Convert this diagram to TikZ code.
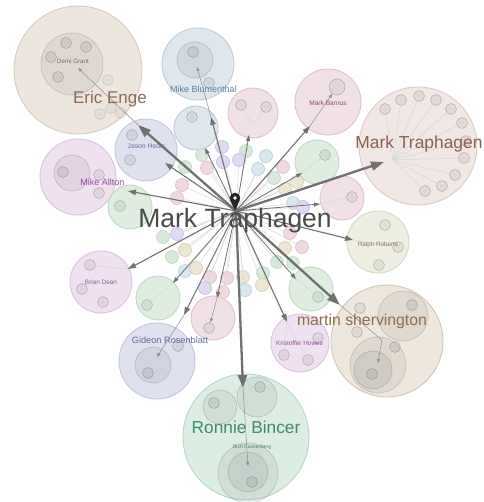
\documentclass[tikz,border=0pt]{standalone}
\usepackage{fontspec}
\setmainfont{Liberation Sans}
\usetikzlibrary{arrows.meta}
\definecolor{beigeF}{HTML}{EDE6DF}\definecolor{beigeD}{HTML}{D9CBBE}
\definecolor{blueF}{HTML}{DFE7EC}\definecolor{blueD}{HTML}{BCCCD8}
\definecolor{pinkF}{HTML}{F1E1E6}\definecolor{pinkD}{HTML}{DEC3CC}
\definecolor{lavF}{HTML}{E0E1EF}\definecolor{lavD}{HTML}{C2C5E0}
\definecolor{purpF}{HTML}{F0E1F1}\definecolor{purpD}{HTML}{DAC2DF}
\definecolor{greenF}{HTML}{DFEDE1}\definecolor{greenD}{HTML}{C0D9C6}
\definecolor{oliveF}{HTML}{EFEEE3}\definecolor{oliveD}{HTML}{D9D7C1}
\definecolor{roseF}{HTML}{F1E7E5}\definecolor{roseD}{HTML}{DDCBC5}
\definecolor{tanF}{HTML}{EDE7DE}\definecolor{tanD}{HTML}{D3C5B2}
\definecolor{ronF}{HTML}{DCEDE4}\definecolor{ronD}{HTML}{B7D7C6}
\definecolor{sgF}{HTML}{D8E8DA}\definecolor{sgD}{HTML}{BFD7C4}
\definecolor{spF}{HTML}{EFD9DF}\definecolor{spD}{HTML}{DCBCC6}
\definecolor{slF}{HTML}{DEDBF0}\definecolor{slD}{HTML}{C2BDE0}
\definecolor{sbF}{HTML}{D9E7EE}\definecolor{sbD}{HTML}{B9CFDB}
\definecolor{seF}{HTML}{ECE6D5}\definecolor{seD}{HTML}{D6CCB2}
\definecolor{arrC}{HTML}{707070}
\definecolor{ericC}{HTML}{8C6A55}\definecolor{markTC}{HTML}{8E5E4E}
\definecolor{martinC}{HTML}{8F6E48}\definecolor{ronC}{HTML}{3E8C66}
\definecolor{centerC}{HTML}{4A4A4A}\definecolor{blumC}{HTML}{5C7F9E}
\definecolor{barnC}{HTML}{8B4B5E}\definecolor{jasonC}{HTML}{6E6E9E}
\definecolor{alltonC}{HTML}{8E4E9E}\definecolor{ralphC}{HTML}{7D7B5A}
\definecolor{brianC}{HTML}{8E5E9E}\definecolor{gidC}{HTML}{5E6E9E}
\definecolor{kristC}{HTML}{8E4E8E}\definecolor{richC}{HTML}{4E7E5E}
\tikzset{
 bub/.style={circle, inner sep=0pt, outer sep=0pt, line width=0.9pt},
 cBeige/.style={fill=beigeF, draw=beigeD},
 cBlue/.style={fill=blueF, draw=blueD},
 cPink/.style={fill=pinkF, draw=pinkD},
 cLav/.style={fill=lavF, draw=lavD},
 cPurp/.style={fill=purpF, draw=purpD},
 cGreen/.style={fill=greenF, draw=greenD},
 cOlive/.style={fill=oliveF, draw=oliveD},
 cRose/.style={fill=roseF, draw=roseD},
 cTan/.style={fill=tanF, draw=tanD},
 cRon/.style={fill=ronF, draw=ronD},
 inr/.style={circle, inner sep=0pt, fill=black, fill opacity=0.06, draw=black, draw opacity=0.14, line width=0.7pt},
 sub/.style={circle, inner sep=0pt, minimum size=11pt, fill=black, fill opacity=0.06, draw=black, draw opacity=0.2, line width=0.6pt,
   path picture={\draw[black!25, line width=0.4pt] (path picture bounding box.center) circle (1.5pt);}},
 pale/.style={fill opacity=0.035, draw opacity=0.12},
 sm/.style={circle, inner sep=0pt, minimum size=13pt, line width=0.6pt},
 sG/.style={fill=sgF, draw=sgD}, sP/.style={fill=spF, draw=spD},
 sL/.style={fill=slF, draw=slD}, sB/.style={fill=sbF, draw=sbD},
 sE/.style={fill=seF, draw=seD},
 faint/.style={draw=black!17, line width=0.4pt},
 thk/.style={draw=arrC, line width=2.3pt, -{Triangle[length=13pt,width=9pt]}},
 med/.style={draw=arrC, line width=1.1pt, -{Triangle[length=8pt,width=5.5pt]}},
 lite/.style={draw=arrC, line width=0.8pt, -{Triangle[length=6pt,width=4pt]}},
 thinarr/.style={draw=arrC!80, line width=0.5pt, -{Triangle[length=4pt,width=3pt]}},
 lbl/.style={inner sep=0pt, anchor=base},
}
\begin{document}
\begin{tikzpicture}[x=1pt,y=-1pt]
\useasboundingbox[fill=white] (0,0) rectangle (483,502);
% ---------- big circles ----------
\node[bub,cBeige,minimum size=128pt] (eric) at (78,70) {};
\node[inr,minimum size=62pt] (ericIn) at (72,64) {};
\node[bub,cBlue,minimum size=72pt] (blum) at (198,64) {};
\node[inr,minimum size=36pt] (blumIn) at (195,60) {};
\node[bub,cBlue,minimum size=44pt] (bl2) at (196,128) {};
\node[bub,cPink,minimum size=50pt] (pk1) at (253,113) {};
\node[bub,cPink,minimum size=66pt] (barn) at (328,102) {};
\node[bub,cRose,minimum size=118pt] (markT) at (418,146) {};
\node[bub,cGreen,minimum size=44pt] (gr1) at (317,162) {};
\node[bub,cPink,minimum size=44pt] (pk2) at (342,198) {};
\node[bub,cLav,minimum size=62pt] (jason) at (146,150) {};
\node[bub,cPurp,minimum size=76pt] (allton) at (78,177) {};
\node[inr,minimum size=36pt] (alltonIn) at (72,173) {};
\node[bub,cGreen,minimum size=44pt] (gr2) at (130,207) {};
\node[bub,cOlive,minimum size=62pt] (ralph) at (378,242) {};
\node[bub,cPurp,minimum size=62pt] (brian) at (101,282) {};
\node[bub,cGreen,minimum size=44pt] (gr3) at (158,298) {};
\node[bub,cLav,minimum size=76pt] (gid) at (157,361) {};
\node[inr,minimum size=36pt] (gidIn) at (153,365) {};
\node[bub,cPink,minimum size=44pt] (pk3) at (213,318) {};
\node[bub,cGreen,minimum size=44pt] (gr4) at (311,289) {};
\node[bub,cPurp,minimum size=58pt] (krist) at (300,343) {};
\node[bub,cTan,minimum size=112pt] (martin) at (387,341) {};
\node[inr,minimum size=50pt] (mIn1) at (403,316) {};
\node[inr,minimum size=56pt] (mIn2) at (378,365) {};
\node[inr,minimum size=38pt] (mIn3) at (373,370) {};
\node[bub,cRon,minimum size=126pt] (ronnie) at (246,437) {};
\node[inr,minimum size=40pt] (rIn1) at (257,397) {};
\node[inr,minimum size=34pt] (rIn2) at (220,407) {};
\node[inr,minimum size=60pt] (rIn3) at (248,473) {};
\node[inr,minimum size=40pt] (rIn4) at (248,472) {};
% ---------- sub circles inside groups ----------
\node[sub] (e1) at (66,43) {}; \node[sub] (e2) at (86,47) {};
\node[sub] (e3) at (51,57) {}; \node[sub] (e4) at (58,77) {};
\node[sub,pale] (e5) at (108,80) {}; \node[sub,pale] (e6) at (100,114) {};
\node[sub,pale] (e7) at (111,108) {}; \node[sub,pale] (e8) at (121,113) {};
\coordinate (eH) at (72,63);
\foreach \n in {e1,e2,e3,e4} \draw[faint] (eH) -- (\n);
\node[sub] (b1) at (193,52) {}; \node[sub] (b2) at (209,83) {};
\node[sub] (b3) at (192,117) {};
\node[sub] (p1) at (241,105) {}; \node[sub] (p2) at (266,107) {};
\coordinate (pH) at (253,125);
\draw[faint] (pH) -- (p1); \draw[faint] (pH) -- (p2);
\node[sub,minimum size=16pt] (bn1) at (337,87) {};
\node[sub] (g1) at (325,155) {};
\node[sub] (p3) at (352,197) {};
\node[sub] (j1) at (132,135) {}; \node[sub] (j2) at (130,160) {};
\node[sub] (a1) at (63,172) {}; \node[sub] (a2) at (99,175) {}; \node[sub] (a3) at (99,193) {};
\node[sub] (g2) at (120,206) {};
\node[sub] (r1) at (385,225) {}; \node[sub] (r2) at (398,247) {}; \node[sub] (r3) at (379,265) {};
\node[sub] (d1) at (90,265) {}; \node[sub] (d2) at (82,289) {}; \node[sub] (d3) at (103,302) {};
\node[sub] (g3) at (147,305) {};
\node[sub] (gd1) at (148,373) {}; \node[sub] (gd2) at (178,346) {};
\node[sub] (p4) at (209,328) {};
\node[sub] (g4) at (318,297) {};
\node[sub] (k1) at (284,355) {}; \node[sub] (k2) at (308,360) {}; \node[sub] (k3) at (318,338) {};
\node[sub] (m1) at (360,308) {}; \node[sub] (m2) at (357,332) {}; \node[sub] (m3) at (395,347) {};
\node[sub] (m4) at (412,305) {}; \node[sub] (m5) at (372,374) {};
\node[sub] (rn1) at (252,482) {}; \node[sub] (rn2) at (214,403) {}; \node[sub] (rn3) at (260,387) {};
% Mark Traphagen ring
\coordinate (mtH) at (393,160);
\foreach \p [count=\i] in {(385,109),(401,100),(419,96),(436,100),(451,109),(462,123),(466,141),(464,158),(455,175),(442,186),(425,191)}
 {\node[sub] (mt\i) at \p {}; \draw[faint] (mtH) -- (mt\i);}
% ---------- free small circles ----------
\coordinate (hub) at (236,211);
\foreach \p/\s [count=\i] in {(246,151)/sG,(239,160)/sL,(266,156)/sB,(258,169)/sB,(283,167)/sP,(274,178)/sG,(297,182)/sE,(285,189)/sE,(293,203)/sB,(303,207)/sL,(222,147)/sL,(202,155)/sG,(223,162)/sL,(207,168)/sP,(185,167)/sG,(182,185)/sP,(177,198)/sP,(163,237)/sG,(177,234)/sL,(185,250)/sE,(172,257)/sG,(185,271)/sB,(196,268)/sE,(210,277)/sP,(227,278)/sP,(243,277)/sE,(205,288)/sL,(223,292)/sP,(245,290)/sB,(263,273)/sG,(262,285)/sE,(277,262)/sG,(285,248)/sE,(293,263)/sG,(302,247)/sP,(290,233)/sP}
 {\node[sm,\s] (f\i) at \p {}; \draw[faint] (hub) -- (f\i);}
% ---------- connectors ----------
\coordinate (tEric) at (138,125);   \coordinate (tJason) at (165,163);
\coordinate (tBlum) at (211,117);   \coordinate (tBl2) at (205,148);
\coordinate (tPk1) at (249,135);    \coordinate (tBarn) at (310,126);
\coordinate (tMarkT) at (384,162);  \coordinate (tGr1) at (302,173);
\coordinate (tPk2) at (320,204);    \coordinate (tAllton) at (128,191);
\coordinate (tRalph) at (353,240);  \coordinate (tBrian) at (128,269);
\coordinate (tGr3) at (173,283);    \coordinate (tGid) at (184,315);
\coordinate (tPk3) at (217,298);    \coordinate (tRon) at (243,388);
\coordinate (tKrist) at (287,322);  \coordinate (tGr4) at (296,279);
\coordinate (tMartin) at (340,305);
\draw[thk] (hub) -- (tEric);
\draw[thk] (hub) -- (tMarkT);
\draw[thk] (hub) -- (tMartin);
\draw[thk] (hub) -- (tRon);
\draw[med] (hub) -- (tJason);
\draw[med] (hub) -- (tBlum);
\draw[lite] (hub) -- (tBl2);
\draw[lite] (hub) -- (tPk1);
\draw[med] (hub) -- (tBarn);
\draw[lite] (hub) -- (tGr1);
\draw[lite] (hub) -- (tPk2);
\draw[med] (hub) -- (tAllton);
\draw[med] (hub) -- (tRalph);
\draw[med] (hub) -- (tBrian);
\draw[lite] (hub) -- (tGr3);
\draw[med] (hub) -- (tGid);
\draw[lite] (hub) -- (tPk3);
\draw[med] (hub) -- (tKrist);
\draw[lite] (hub) -- (tGr4);
% inner thin connectors
\coordinate (eT) at (78,68);
\draw[thinarr] (tEric) -- (eT);
\coordinate (bT) at (197,67);
\draw[thinarr] (tBlum) -- (bT);
\draw[thinarr] (tBarn) -- (bn1);
\draw[faint] (tGr1) -- (g1);
\draw[faint] (tPk2) -- (p3);
\coordinate (gT) at (157,357);
\draw[thinarr] (tGid) -- (gT);
\draw[thinarr] (tPk3) -- (p4);
\draw[faint] (tKrist) -- (k1); \draw[faint] (tKrist) -- (k2);
\coordinate (mK) at (382,340); \coordinate (mT) at (378,363);
\draw[thinarr] (tMartin) -- (mK) -- (mT);
\coordinate (rT) at (248,466);
\draw[thinarr] (tRon) -- (rT);
\draw[faint] (tRon) -- (rn2); \draw[faint] (tRon) -- (rn3);
\draw[faint] (tAllton) -- (a2);
\draw[faint] (tBrian) -- (d1);
\draw[faint] (tGr3) -- (g3);
\draw[faint] (tGr4) -- (g4);
\draw[faint] (tRalph) -- (r2);
% ---------- labels ----------
\node[lbl,text=centerC,font=\fontsize{26.5}{26.5}\selectfont] (lCenter) at (235,228) {Mark Traphagen};
\node[lbl,text=ericC,font=\fontsize{17}{17}\selectfont] (lEric) at (110,104) {Eric Enge};
\node[lbl,text=markTC,font=\fontsize{17.4}{17.4}\selectfont] (lMarkT) at (419,149) {Mark Traphagen};
\node[lbl,text=martinC,font=\fontsize{15.8}{15.8}\selectfont] (lMartin) at (362,325) {martin shervington};
\node[lbl,text=ronC,font=\fontsize{17.3}{17.3}\selectfont] (lRon) at (246,433) {Ronnie Bincer};
\node[lbl,text=blumC,font=\fontsize{9}{9}\selectfont] (lBlum) at (203.5,93) {Mike Blumenthal};
\node[lbl,text=gidC,font=\fontsize{9.2}{9.2}\selectfont] (lGid) at (170,343) {Gideon Rosenblatt};
\node[lbl,text=alltonC,font=\fontsize{9}{9}\selectfont] (lAllton) at (102.5,186) {Mike Allton};
\node[lbl,text=ericC,font=\fontsize{6.2}{6.2}\selectfont] (lDemi) at (73,64) {Demi Grant};
\node[lbl,text=barnC,font=\fontsize{6.6}{6.6}\selectfont] (lBarn) at (328,106) {Mark Barnus};
\node[lbl,text=jasonC,font=\fontsize{6.8}{6.8}\selectfont] (lJason) at (146.5,149) {Jason Hedts};
\node[lbl,text=brianC,font=\fontsize{6.4}{6.4}\selectfont] (lBrian) at (101,284) {Brian Dean};
\node[lbl,text=ralphC,font=\fontsize{6.3}{6.3}\selectfont] (lRalph) at (378,246) {Ralph Roberts};
\node[lbl,text=kristC,font=\fontsize{6.4}{6.4}\selectfont] (lKrist) at (299.5,345) {Kristoffer Howes};
\node[lbl,text=richC,font=\fontsize{5}{5}\selectfont] (lRich) at (252,448) {Rich Cassenberg};
% ---------- pin ----------
\fill[black!85] (230.2,200) -- (235,210.5) -- (239.8,200) -- cycle;
\fill[black!85] (235,198) circle (5.3pt);
\fill[white] (235,198) circle (1.9pt);
\end{tikzpicture}
\end{document}
